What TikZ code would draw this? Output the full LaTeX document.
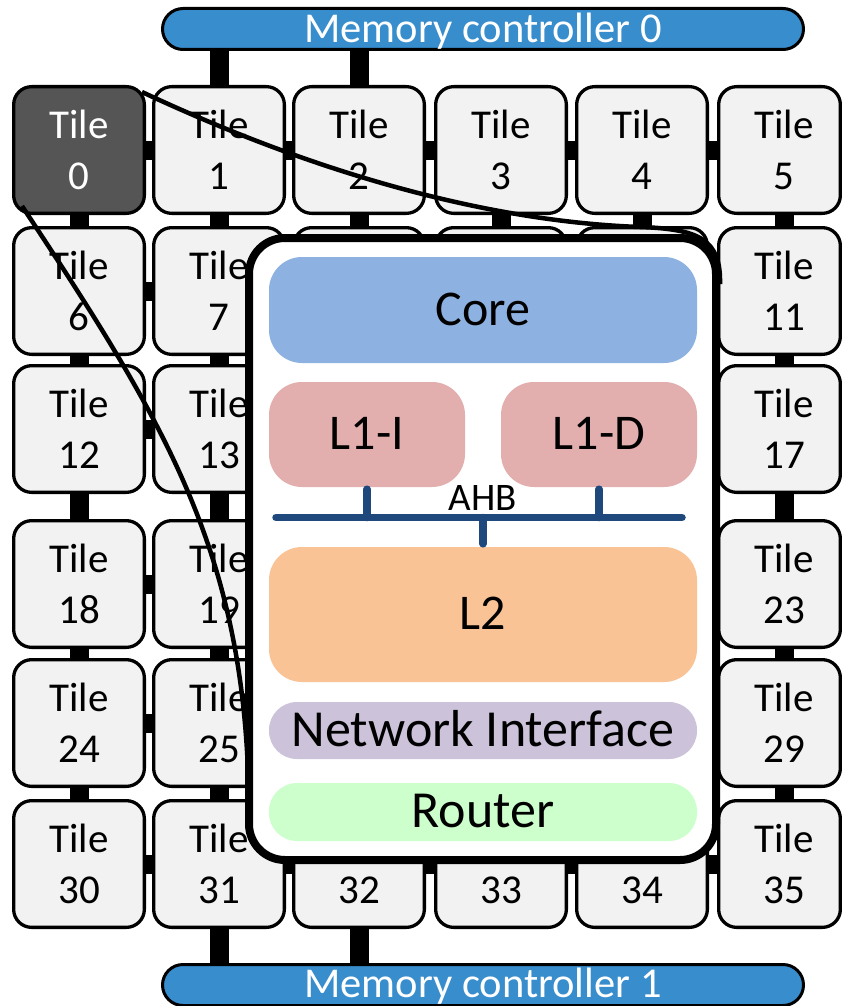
\documentclass[tikz,border=0pt]{standalone}
\usepackage{fontspec}
\setmainfont{Carlito}
\usetikzlibrary{calc}
\pgfdeclarelayer{background}
\pgfdeclarelayer{curves}
\pgfdeclarelayer{front}
\pgfsetlayers{background,main,curves,front}

\definecolor{tilefill}{HTML}{F2F2F2}
\definecolor{hotfill}{HTML}{555555}
\definecolor{mcblue}{HTML}{388DCD}
\definecolor{corefill}{HTML}{8DB2E1}
\definecolor{cachefill}{HTML}{E2AFAE}
\definecolor{ltwofill}{HTML}{F9C396}
\definecolor{nifill}{HTML}{CCC2DA}
\definecolor{routerfill}{HTML}{CCFFCC}
\definecolor{busblue}{HTML}{1F497D}

\begin{document}
\begin{tikzpicture}[x=1pt,y=-1pt,
  tilebox/.style={draw=black, line width=3.3pt, fill=tilefill, rounded corners=18pt,
    minimum width=130.7pt, minimum height=126.7pt, inner sep=0pt, align=center,
    font=\fontsize{41}{51}\selectfont},
  tile0/.style={fill=hotfill, text=white},
  link/.style={line width=19pt, black},
  mcbox/.style={draw=black, line width=3pt, fill=mcblue, rounded corners=20.5pt,
    minimum width=641pt, minimum height=41pt, inner sep=0pt, text=white,
    font=\fontsize{42.5}{50}\selectfont, text height=27pt, text depth=0pt},
  detailbox/.style={draw=black, line width=8pt, fill=white, rounded corners=36pt,
    minimum width=467pt, minimum height=622pt, inner sep=0pt},
  blockbox/.style={rounded corners=33pt, inner sep=0pt, minimum width=428pt,
    font=\fontsize{50}{60}\selectfont, text height=30pt, text depth=0pt},
  pillbox/.style={blockbox, rounded corners=28pt, font=\fontsize{52}{62}\selectfont,
    text height=31pt},
  zoomline/.style={line width=4.5pt, black},
  bus/.style={draw=busblue, line width=7.5pt, line cap=round}
]
\useasboundingbox (0,0) rectangle (842,1006);

% memory controllers
\node[mcbox] (mc0) at (483,29) {Memory controller 0};
\node[mcbox, text height=24pt] (mc1) at (483,985) {Memory controller 1};

% 6x6 tile mesh (labels hidden by the enlarged view are left out)
\foreach \r/\y in {0/150,1/291,2/429,3/584,4/723,5/864} {
  \foreach \c/\x in {0/79,1/219,2/359,3/501,4/642} {
    \pgfmathtruncatemacro{\n}{6*\r+\c}
    \pgfmathtruncatemacro{\hid}{and(and(\r>=1,\r<=4),and(\c>=2,\c<=4))}
    \pgfmathtruncatemacro{\low}{and(\r==5,and(\c>=2,\c<=4))}
    \ifnum\hid=1
      \node[tilebox] (t\n) at (\x,\y) {};
    \else\ifnum\low=1
      \node[tilebox] (t\n) at (\x,\y) {\phantom{Tile}\\\n};
    \else
      \node[tilebox, tile\n/.try] (t\n) at (\x,\y) {Tile\\\n};
    \fi\fi
  }
  \pgfmathtruncatemacro{\n}{6*\r+5}
  \node[tilebox, minimum width=121.7pt] (t\n) at (779.5,\y)
    {\hspace*{9pt}Tile\\\hspace*{9pt}\n};
}

% mesh links
\begin{pgfonlayer}{background}
  \foreach \r in {0,...,5} {
    \foreach \c in {0,...,4} {
      \pgfmathtruncatemacro{\a}{6*\r+\c}
      \pgfmathtruncatemacro{\b}{\a+1}
      \draw[link] (t\a.center) -- (t\b.center);
    }
  }
  \foreach \r in {0,...,4} {
    \foreach \c in {0,...,4} {
      \pgfmathtruncatemacro{\a}{6*\r+\c}
      \pgfmathtruncatemacro{\b}{\a+6}
      \draw[link] (t\a.center) -- (t\b.center);
    }
    \pgfmathtruncatemacro{\a}{6*\r+5}
    \pgfmathtruncatemacro{\b}{\a+6}
    \draw[link] ([xshift=4.5pt]t\a.center) -- ([xshift=4.5pt]t\b.center);
  }
  \draw[link] (t1.center) -- (t1.center |- mc0.center);
  \draw[link] (t2.center) -- (t2.center |- mc0.center);
  \draw[link] (t31.center) -- (t31.center |- mc1.center);
  \draw[link] (t32.center) -- (t32.center |- mc1.center);
\end{pgfonlayer}

% enlarged tile
\begin{pgfonlayer}{front}
  \node[detailbox] (detail) at (482.5,549) {};
  \node[blockbox, fill=corefill, minimum height=106pt] (core) at (483,310) {Core};
  \node[blockbox, fill=cachefill, minimum width=196pt, minimum height=105pt] (l1i) at (367,434.5) {L1-I};
  \node[blockbox, fill=cachefill, minimum width=196pt, minimum height=105pt] (l1d) at (599,434.5) {L1-D};
  \node[blockbox, fill=ltwofill, minimum height=135pt] (l2) at (483,614.5) {L2};
  \node[pillbox, fill=nifill, minimum height=57pt] (ni) at (483,730.5) {Network Interface};
  \node[pillbox, fill=routerfill, minimum height=58pt] (router) at (483,812) {Router};
  \coordinate (busW) at (276,517.5);
  \coordinate (busE) at (682,517.5);
  \draw[bus] (busW) -- (busE);
  \draw[bus] ([yshift=-2pt]l1i.south) -- (l1i.south |- busW);
  \draw[bus] ([yshift=-2pt]l1d.south) -- (l1d.south |- busW);
  \draw[bus] ([yshift=3pt]l2.north) -- (l2.north |- busW);
  \node[font=\fontsize{39}{46}\selectfont, anchor=base, inner sep=0pt] (ahb) at (483,510) {AHB};
\end{pgfonlayer}

% lines from tile 0 to its enlarged view
\begin{pgfonlayer}{curves}
  \coordinate (topend) at ([yshift=-50pt]detail.north east);
  \coordinate (leftend) at ([xshift=4pt,yshift=40pt]detail.south west);
  \draw[zoomline] ([xshift=-4pt,yshift=-7pt]t0.north east)
    .. controls (330,180) and (500,222) .. (640,227)
    .. controls (700,229) and (721,240) .. (topend);
  \draw[zoomline] ([xshift=10pt,yshift=9pt]t0.south west)
    .. controls (170,430) and (250,560) .. (leftend);
\end{pgfonlayer}
\end{tikzpicture}
\end{document}
